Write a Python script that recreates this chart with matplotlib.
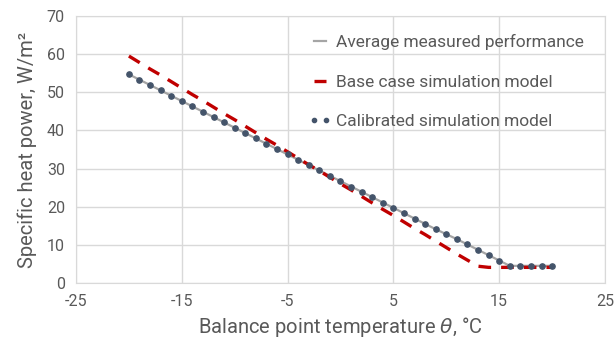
import matplotlib
matplotlib.use("Agg")
from matplotlib import pyplot as plt

# balance point temperatures (deg C)
temps = list(range(-20, 21))

# average measured performance (W/m2)
measured = [54.7, 53.3, 51.9, 50.5, 49.1, 47.7, 46.3, 44.9, 43.5, 42.1,
            40.7, 39.3, 37.9, 36.5, 35.1, 33.7, 32.3, 30.9, 29.5, 28.1,
            26.7, 25.3, 23.9, 22.5, 21.1, 19.7, 18.3, 16.9, 15.5, 14.1,
            12.8, 11.5, 10.1, 8.7, 7.3, 5.9, 4.5, 4.5, 4.5, 4.5, 4.5]

# base case simulation (W/m2)
base_case = [59.5, 57.8, 56.1, 54.5, 52.8, 51.1, 49.4, 47.8, 46.1, 44.4,
             42.8, 41.1, 39.4, 37.7, 36.1, 34.4, 32.7, 31.0, 29.4, 27.7,
             26.0, 24.4, 22.7, 21.0, 19.3, 17.7, 16.0, 14.3, 12.7, 11.0,
             9.3, 7.6, 6.0, 4.4, 4.1, 4.1, 4.1, 4.1, 4.1, 4.1, 4.1]

# calibrated simulation (W/m2)
calibrated = [54.7, 53.3, 51.9, 50.5, 49.1, 47.7, 46.3, 44.9, 43.5, 42.1,
              40.7, 39.3, 37.9, 36.5, 35.1, 33.7, 32.3, 30.9, 29.5, 28.1,
              26.7, 25.3, 23.9, 22.5, 21.1, 19.7, 18.3, 16.9, 15.5, 14.1,
              12.8, 11.5, 10.1, 8.7, 7.3, 5.9, 4.5, 4.5, 4.5, 4.5, 4.5]

plt.rcParams['font.family'] = ['Roboto', 'DejaVu Sans']
plt.rcParams['axes.unicode_minus'] = False

fig = plt.figure(figsize=(6.15, 3.42), dpi=100)
ax = fig.add_axes([0.1236, 0.1725, 0.8601, 0.7807])

ax.plot(temps, measured, color='#A5A5A5', lw=1.6, label='Average measured performance', zorder=2)
ax.plot(temps, base_case, color='#C00000', lw=2.4, dashes=(3.8, 3.0),
        label='Base case simulation model', zorder=3)
ax.plot(temps, calibrated, ls='none', marker='o', ms=3.8, color='#44546A',
        label='Calibrated simulation model', zorder=4)

ax.set_xlim(-25, 25)
ax.set_ylim(0, 70)
ax.set_xticks(range(-25, 26, 10))
ax.set_yticks(range(0, 71, 10))
ax.grid(True, color='#D9D9D9', lw=1)
ax.set_axisbelow(True)
for s in ax.spines.values():
    s.set_color('#D9D9D9')
ax.tick_params(length=0, labelsize=11.5, colors='#595959', pad=8)

ax.set_xlabel(r'Balance point temperature $\theta$, °C', fontsize=14.5, color='#595959', labelpad=4)
ax.set_ylabel('Specific heat power, W/m²', fontsize=14.5, color='#595959', labelpad=7)

leg = ax.legend(loc='upper right', bbox_to_anchor=(0.99, 0.99), frameon=False, fontsize=12.5,
                labelspacing=1.4, handlelength=1.3, handletextpad=0.3, labelcolor='#595959',
                numpoints=2, markerscale=0.8)

fig.savefig('out.png', dpi=100)
